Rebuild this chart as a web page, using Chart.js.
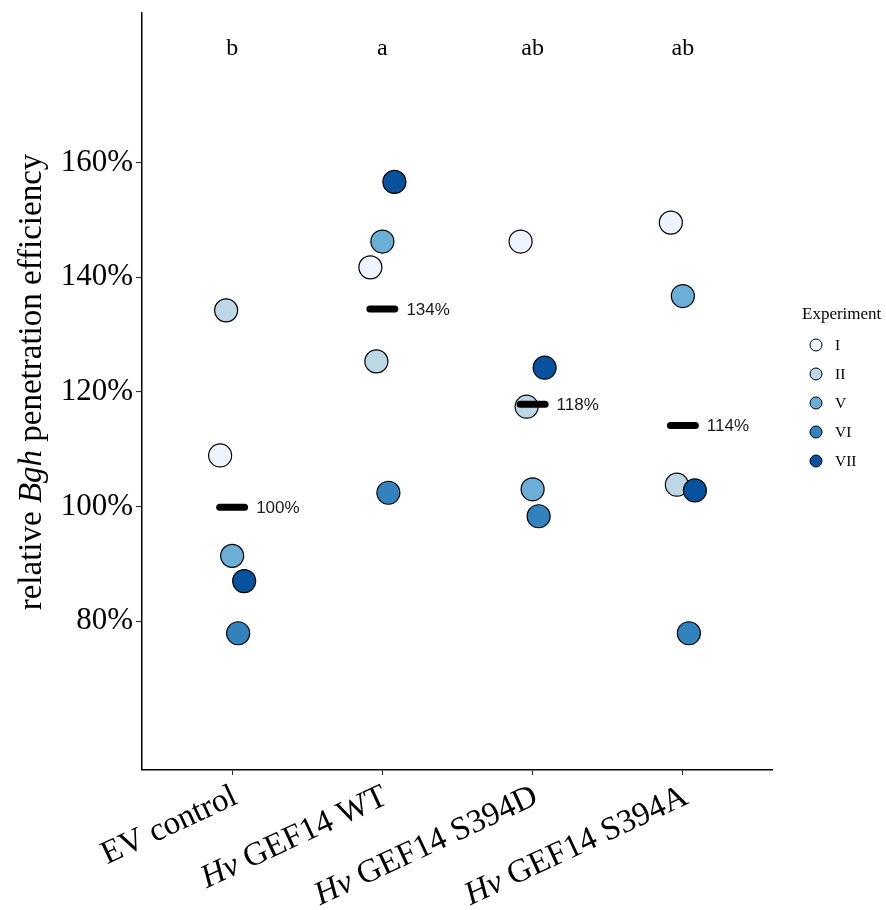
<!DOCTYPE html>
<html>
<head>
<meta charset="utf-8">
<script src="https://cdn.jsdelivr.net/npm/chart.js@4.4.1/dist/chart.umd.min.js"></script>
<style>
  html, body { margin: 0; padding: 0; background: #fff; }
  canvas { display: block; }
</style>
</head>
<body>
<canvas id="chart" width="886" height="910"></canvas>
<script>
// Constructs on the x axis ("Hv" prefix is set in italics)
const categories = ['EV control', 'Hv GEF14 WT', 'Hv GEF14 S394D', 'Hv GEF14 S394A'];
// Independent experiments
const experiments = ['I', 'II', 'V', 'VI', 'VII'];
// Relative Bgh penetration efficiency (%), one value per construct
const expI   = [108.9, 141.7, 146.2, 149.5];
const expII  = [134.2, 125.3, 117.4, 103.8];
const expV   = [ 91.4, 146.2, 103.0, 136.7];
const expVI  = [ 77.9, 102.4,  98.3,  77.9];
const expVII = [ 87.0, 156.6, 124.2, 102.8];
// Letters from the post-hoc test
const significance = ['b', 'a', 'ab', 'ab'];
const yTicks = [80, 100, 120, 140, 160];

const series = [expI, expII, expV, expVI, expVII];
const fillColors = ['#eff3ff', '#bdd7e7', '#6baed6', '#3182bd', '#08519c'];
const dodge = [-0.08, -0.04, 0, 0.04, 0.08];
const SERIF = '"Liberation Serif", "Times New Roman", serif';
const SANS = '"Liberation Sans", Arial, sans-serif';

const means = categories.map((_, i) =>
  series.reduce((s, vals) => s + vals[i], 0) / series.length);

const pointSets = series.map((vals, e) => ({
  type: 'scatter',
  label: experiments[e],
  data: vals.map((v, i) => ({ x: i + 1 + dodge[e], y: v })),
  backgroundColor: fillColors[e],
  borderColor: '#000',
  borderWidth: 1.2,
  pointRadius: 11.5,
  pointHoverRadius: 11.5,
  order: 10 - e
}));

const meanSets = means.map((m, i) => ({
  type: 'line',
  label: 'mean ' + categories[i],
  data: [{ x: i + 1 - 0.083, y: m }, { x: i + 1 + 0.083, y: m }],
  borderColor: '#000',
  borderWidth: 7,
  borderCapStyle: 'round',
  pointRadius: 0,
  pointHoverRadius: 0,
  fill: false,
  order: 0
}));

function zeroPad(s) {
  s.paddingTop = 0; s.paddingBottom = 0; s.paddingLeft = 0; s.paddingRight = 0;
}

// Draws text made of plain and italic runs; align = 'left' | 'center' | 'right'
function drawRuns(ctx, runs, size, align) {
  const widths = runs.map(r => {
    ctx.font = (r.italic ? 'italic ' : '') + size + 'px ' + SERIF;
    return ctx.measureText(r.text).width;
  });
  const total = widths.reduce((a, b) => a + b, 0);
  let x = align === 'right' ? -total : align === 'center' ? -total / 2 : 0;
  ctx.textAlign = 'left';
  runs.forEach((r, k) => {
    ctx.font = (r.italic ? 'italic ' : '') + size + 'px ' + SERIF;
    ctx.fillText(r.text, x, 0);
    x += widths[k];
  });
}

function labelRuns(name) {
  if (name.startsWith('Hv ')) return [{ text: 'Hv', italic: true }, { text: name.slice(2) }];
  return [{ text: name }];
}

const annotations = {
  id: 'annotations',
  afterDatasetsDraw(chart) {
    const ctx = chart.ctx;
    const xs = chart.scales.x, ys = chart.scales.y;
    ctx.save();

    // mean labels
    ctx.font = '17px ' + SANS;
    ctx.fillStyle = '#1a1a1a';
    ctx.textAlign = 'left';
    ctx.textBaseline = 'middle';
    means.forEach((m, i) => {
      ctx.fillText(Math.round(m) + '%', xs.getPixelForValue(i + 1) + 24, ys.getPixelForValue(m) + 1);
    });

    // significance letters
    ctx.fillStyle = '#000';
    ctx.font = '24px ' + SERIF;
    ctx.textAlign = 'center';
    ctx.textBaseline = 'middle';
    significance.forEach((s, i) => {
      ctx.fillText(s, xs.getPixelForValue(i + 1), ys.getPixelForValue(179.9));
    });

    // rotated category labels
    ctx.textBaseline = 'alphabetic';
    categories.forEach((c, i) => {
      ctx.save();
      ctx.translate(xs.getPixelForValue(i + 1) + 7, 803);
      ctx.rotate(-25 * Math.PI / 180);
      drawRuns(ctx, labelRuns(c), 33, 'right');
      ctx.restore();
    });

    // y axis title
    ctx.save();
    ctx.translate(41, 382);
    ctx.rotate(-Math.PI / 2);
    drawRuns(ctx, [
      { text: 'relative ' }, { text: 'Bgh', italic: true }, { text: ' penetration efficiency' }
    ], 33, 'center');
    ctx.restore();

    // legend
    ctx.font = '17px ' + SERIF;
    ctx.textAlign = 'left';
    ctx.textBaseline = 'middle';
    ctx.fillText('Experiment', 802, 315);
    ctx.font = '15.5px ' + SERIF;
    experiments.forEach((e, k) => {
      const cy = 345 + k * 29;
      ctx.beginPath();
      ctx.arc(816, cy, 6, 0, Math.PI * 2);
      ctx.fillStyle = fillColors[k];
      ctx.fill();
      ctx.lineWidth = 1;
      ctx.strokeStyle = '#000';
      ctx.stroke();
      ctx.fillStyle = '#000';
      ctx.fillText(e, 835, cy + 1);
    });
    ctx.restore();
  }
};

new Chart(document.getElementById('chart'), {
  type: 'scatter',
  data: { datasets: [...meanSets, ...pointSets] },
  options: {
    responsive: false,
    animation: false,
    devicePixelRatio: 1,
    layout: { padding: { top: 10, right: 113, bottom: 0, left: 0 } },
    plugins: { legend: { display: false }, tooltip: { enabled: false } },
    scales: {
      x: {
        type: 'linear',
        min: 0.4,
        max: 4.6,
        afterBuildTicks: s => { s.ticks = [1, 2, 3, 4].map(v => ({ value: v })); },
        afterFit: s => { s.height = 140; zeroPad(s); },
        ticks: { autoSkip: false, callback: () => '' },
        grid: { drawOnChartArea: false, drawTicks: true, tickLength: 5, color: '#333', lineWidth: 1.1 },
        border: { display: true, color: '#000', width: 1.5 }
      },
      y: {
        type: 'linear',
        min: 54.06,
        max: 186.1,
        afterBuildTicks: s => { s.ticks = yTicks.map(v => ({ value: v })); },
        afterFit: s => { s.width = 142; zeroPad(s); },
        ticks: {
          autoSkip: false,
          padding: 3,
          color: '#000',
          font: { family: SERIF, size: 31 },
          callback: v => v + '%'
        },
        grid: { drawOnChartArea: false, drawTicks: true, tickLength: 6, color: '#333', lineWidth: 1.1 },
        border: { display: true, color: '#000', width: 1.5 }
      }
    }
  },
  plugins: [annotations]
});
</script>
</body>
</html>
